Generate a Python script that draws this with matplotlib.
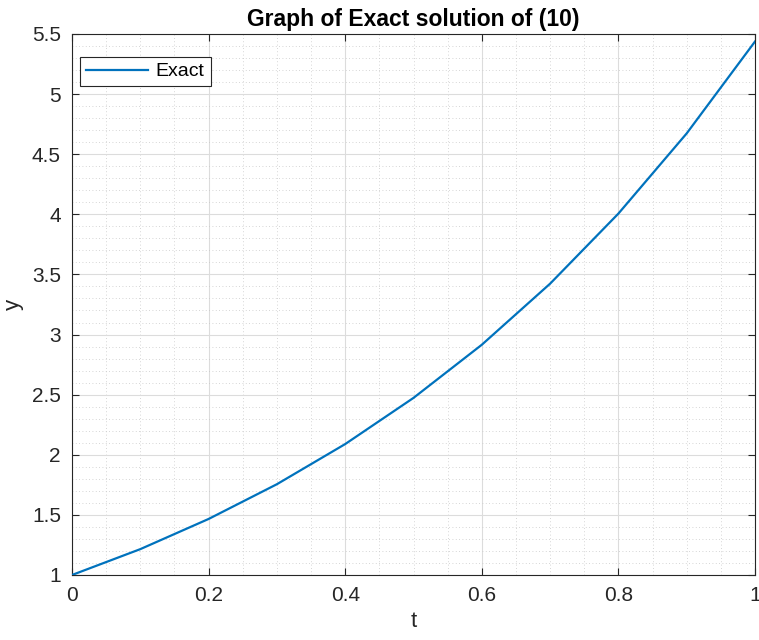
import matplotlib
matplotlib.use('Agg')
import matplotlib.pyplot as plt
from matplotlib.ticker import MultipleLocator

plt.rcParams['font.family'] = ['Liberation Sans', 'DejaVu Sans']

# values
t = [0.0, 0.1, 0.2, 0.3, 0.4, 0.5, 0.6, 0.7, 0.8, 0.9, 1.0]
y_exact = [1.0, 1.215, 1.466, 1.755, 2.089, 2.473, 2.915, 3.423, 4.006, 4.673, 5.437]
x_ticks = [0, 0.2, 0.4, 0.6, 0.8, 1]
x_labels = ['0', '0.2', '0.4', '0.6', '0.8', '1']
y_ticks = [1, 1.5, 2, 2.5, 3, 3.5, 4, 4.5, 5, 5.5]
y_labels = ['1', '1.5', '2', '2.5', '3', '3.5', '4', '4.5', '5', '5.5']

dark = '#262626'

fig = plt.figure(figsize=(7.59, 6.4), dpi=100)
ax = fig.add_axes([0.0949, 0.1016, 0.8998, 0.8453])

ax.plot(t, y_exact, color='#0072BD', linewidth=1.6, label='Exact', zorder=3)

ax.set_xlim(0, 1)
ax.set_ylim(1, 5.5)
ax.set_xticks(x_ticks)
ax.set_xticklabels(x_labels)
ax.set_yticks(y_ticks)
ax.set_yticklabels(y_labels)
ax.xaxis.set_minor_locator(MultipleLocator(0.05))
ax.yaxis.set_minor_locator(MultipleLocator(0.1))

ax.grid(which='major', color='#dcdcdc', linewidth=0.8, linestyle='-')
ax.grid(which='minor', color='#c8c8c8', linewidth=0.6, linestyle=(0, (1, 3)))
ax.set_axisbelow(True)

ax.tick_params(which='major', direction='in', length=5, top=True, right=True,
               colors=dark, labelsize=15, width=0.8, pad=8)
ax.tick_params(which='minor', length=0, top=True, right=True)
for s in ax.spines.values():
    s.set_color(dark)
    s.set_linewidth(0.8)

ax.set_xlabel('t', fontsize=16, color=dark, labelpad=4)
ax.set_ylabel('y', fontsize=16, color=dark, labelpad=6)
ax.set_title('Graph of Exact solution of (10)', fontsize=16.5, fontweight='bold',
             color='black', pad=6)

leg = ax.legend(loc='upper left', fontsize=14, fancybox=False, framealpha=1,
                edgecolor=dark, handlelength=3.2, borderpad=0.3,
                handletextpad=0.4, borderaxespad=0,
                bbox_to_anchor=(0.0117, 0.9575))
leg.get_frame().set_linewidth(0.8)

fig.savefig('out.png', dpi=100)
